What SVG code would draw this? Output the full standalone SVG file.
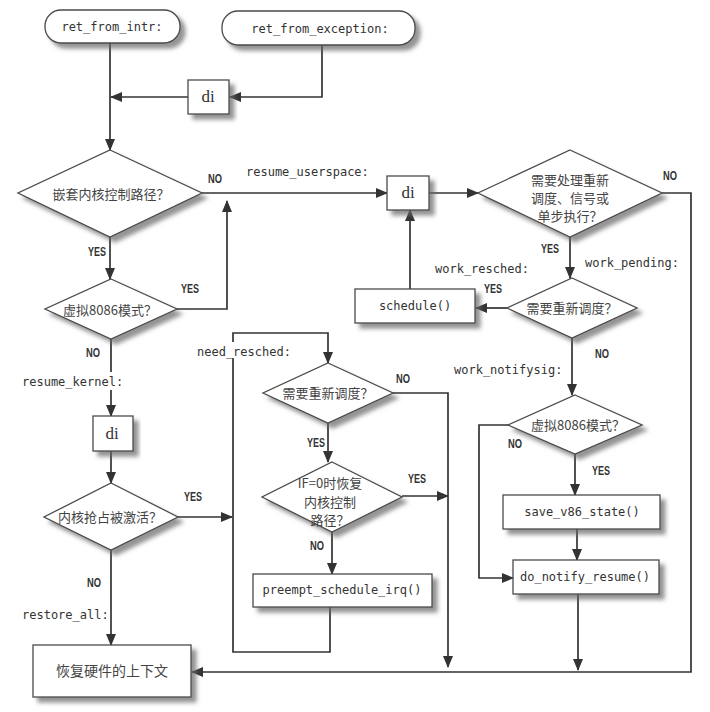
<svg xmlns="http://www.w3.org/2000/svg" width="710" height="712" viewBox="0 0 710 712">
  <style>
    .box { fill: #fff; stroke: #4a4a4a; stroke-width: 1.3; }
    .dia { fill: #fff; stroke: #4a4a4a; stroke-width: 1.3; }
    .code { font-family: "DejaVu Sans Mono", "Liberation Mono", monospace; font-size: 12px; fill: #333; }
    .zh { font-family: "Noto Sans CJK SC", "Noto Sans", sans-serif; font-size: 13px; fill: #444; text-anchor: middle; }
    .zh14 { font-family: "Noto Sans CJK SC", "Noto Sans", sans-serif; font-size: 14px; fill: #444; text-anchor: middle; }
    .di { font-family: "Liberation Serif", serif; font-size: 17px; fill: #333; text-anchor: middle; }
    .yn { font-family: "Liberation Sans", "Noto Sans", sans-serif; font-size: 13px; font-weight: bold; fill: #333; }
    .mid { text-anchor: middle; }
    .wire { fill: none; stroke: #333; stroke-width: 1.7; }
  </style>
  <defs>
    <marker id="arrow" markerUnits="userSpaceOnUse" markerWidth="12" markerHeight="10" refX="11" refY="5" orient="auto">
      <path d="M0,0 L12,5 L0,10 Z" fill="#333"/>
    </marker>
    <filter id="shadow" x="-10%" y="-20%" width="130%" height="160%">
      <feDropShadow dx="5" dy="5" stdDeviation="2" flood-color="#666" flood-opacity="0.7"/>
    </filter>
  </defs>

  <rect width="710" height="712" fill="#fff"/>

  <!-- connectors -->
  <g id="connectors" class="wire" marker-end="url(#arrow)">
    <path d="M110,43 V150"/>
    <path d="M322,45 V97 H230"/>
    <path d="M188,97 H111"/>
    <path d="M202,193 H387"/>
    <path d="M110,237 V279"/>
    <path d="M177,309 H227 V201"/>
    <path d="M111,339 V372 M111,390 V416"/>
    <path d="M111,451 V483"/>
    <path d="M178,517 H232"/>
    <path d="M111,550 V645"/>
    <path d="M330,607 V652 H233 V358 M233,342 V333 H328 V363"/>
    <path d="M393,393 H448 V667"/>
    <path d="M328,423 V462"/>
    <path d="M402,496 H448"/>
    <path d="M332,532 V574"/>
    <path d="M429,193 H478"/>
    <path d="M662,193 H691 V672 H192"/>
    <path d="M570,237 V278"/>
    <path d="M507,308 H476"/>
    <path d="M410,289 V210"/>
    <path d="M572,338 V395"/>
    <path d="M508,425 H479 V578 H513"/>
    <path d="M575,454 V495"/>
    <path d="M577,529 V560"/>
    <path d="M578,594 V670"/>
  </g>

  <!-- entry points -->
  <g id="ret_from_intr">
    <rect class="box" x="45" y="10" width="135" height="33" rx="16" filter="url(#shadow)"/>
    <text class="code mid" x="112" y="31">ret_from_intr:</text>
  </g>
  <g id="ret_from_exception">
    <rect class="box" x="222" y="11" width="193" height="34" rx="16" filter="url(#shadow)"/>
    <text class="code mid" x="320" y="33">ret_from_exception:</text>
  </g>

  <g id="di_1">
    <rect class="box" x="188" y="80" width="41" height="34" filter="url(#shadow)"/>
    <text class="di" x="208" y="102">di</text>
  </g>

  <g id="nested_check">
    <polygon class="dia" points="110,150 202,193 110,237 18,193" filter="url(#shadow)"/>
    <text class="zh" x="111" y="199">嵌套内核控制路径？</text>
  </g>

  <g id="v86_check_1">
    <polygon class="dia" points="111,279 177,309 111,339 45,309" filter="url(#shadow)"/>
    <text class="zh" x="110" y="315">虚拟8086模式？</text>
  </g>

  <g id="di_3">
    <rect class="box" x="93" y="416" width="40" height="35" filter="url(#shadow)"/>
    <text class="di" x="112" y="439">di</text>
  </g>

  <g id="preempt_check">
    <polygon class="dia" points="111,483 178,517 111,550 44,517" filter="url(#shadow)"/>
    <text class="zh" x="110" y="522">内核抢占被激活？</text>
  </g>

  <g id="restore_hw">
    <rect class="box" x="33" y="645" width="158" height="52" filter="url(#shadow)"/>
    <text class="zh14" x="112" y="676">恢复硬件的上下文</text>
  </g>

  <g id="resched_check_kernel">
    <polygon class="dia" points="328,363 393,393 328,423 263,393" filter="url(#shadow)"/>
    <text class="zh" x="328" y="398">需要重新调度？</text>
  </g>

  <g id="if0_check">
    <polygon class="dia" points="332,462 402,497 332,532 262,497" filter="url(#shadow)"/>
    <text class="zh" x="330" y="488">IF=0时恢复</text>
    <text class="zh" x="330" y="507">内核控制</text>
    <text class="zh" x="330" y="525">路径？</text>
  </g>

  <g id="preempt_schedule_irq">
    <rect class="box" x="253" y="574" width="179" height="33" filter="url(#shadow)"/>
    <text class="code mid" x="342" y="594">preempt_schedule_irq()</text>
  </g>

  <g id="di_2">
    <rect class="box" x="387" y="176" width="42" height="34" filter="url(#shadow)"/>
    <text class="di" x="408" y="198">di</text>
  </g>

  <g id="work_check">
    <polygon class="dia" points="570,150 662,193 570,237 478,193" filter="url(#shadow)"/>
    <text class="zh" x="570" y="185">需要处理重新</text>
    <text class="zh" x="570" y="203">调度、信号或</text>
    <text class="zh" x="570" y="221">单步执行？</text>
  </g>

  <g id="schedule">
    <rect class="box" x="355" y="289" width="120" height="34" filter="url(#shadow)"/>
    <text class="code mid" x="415" y="310">schedule()</text>
  </g>

  <g id="resched_check_user">
    <polygon class="dia" points="572,278 637,308 572,338 507,308" filter="url(#shadow)"/>
    <text class="zh" x="572" y="313">需要重新调度？</text>
  </g>

  <g id="v86_check_2">
    <polygon class="dia" points="575,395 642,425 575,454 508,425" filter="url(#shadow)"/>
    <text class="zh" x="578" y="430">虚拟8086模式？</text>
  </g>

  <g id="save_v86_state">
    <rect class="box" x="503" y="495" width="157" height="34" filter="url(#shadow)"/>
    <text class="code mid" x="582" y="516">save_v86_state()</text>
  </g>

  <g id="do_notify_resume">
    <rect class="box" x="513" y="560" width="146" height="34" filter="url(#shadow)"/>
    <text class="code mid" x="585" y="581">do_notify_resume()</text>
  </g>

  <!-- entry labels -->
  <g id="labels">
    <text class="code" x="246" y="176">resume_userspace:</text>
    <text class="code" x="197" y="356">need_resched:</text>
    <text class="code" x="22" y="386">resume_kernel:</text>
    <text class="code" x="22" y="619">restore_all:</text>
    <text class="code" x="435" y="273">work_resched:</text>
    <text class="code" x="585" y="267">work_pending:</text>
    <text class="code" x="454" y="374">work_notifysig:</text>
  </g>

  <!-- branch labels -->
  <g id="branch_labels">
    <text class="yn" x="208" y="183" textLength="14" lengthAdjust="spacingAndGlyphs">NO</text>
    <text class="yn" x="88" y="256" textLength="18" lengthAdjust="spacingAndGlyphs">YES</text>
    <text class="yn" x="181" y="293" textLength="18" lengthAdjust="spacingAndGlyphs">YES</text>
    <text class="yn" x="86" y="357" textLength="14" lengthAdjust="spacingAndGlyphs">NO</text>
    <text class="yn" x="184" y="501" textLength="18" lengthAdjust="spacingAndGlyphs">YES</text>
    <text class="yn" x="87" y="587" textLength="14" lengthAdjust="spacingAndGlyphs">NO</text>
    <text class="yn" x="396" y="383" textLength="14" lengthAdjust="spacingAndGlyphs">NO</text>
    <text class="yn" x="307" y="447" textLength="18" lengthAdjust="spacingAndGlyphs">YES</text>
    <text class="yn" x="408" y="483" textLength="18" lengthAdjust="spacingAndGlyphs">YES</text>
    <text class="yn" x="310" y="550" textLength="14" lengthAdjust="spacingAndGlyphs">NO</text>
    <text class="yn" x="663" y="180" textLength="14" lengthAdjust="spacingAndGlyphs">NO</text>
    <text class="yn" x="541" y="253" textLength="18" lengthAdjust="spacingAndGlyphs">YES</text>
    <text class="yn" x="484" y="293" textLength="18" lengthAdjust="spacingAndGlyphs">YES</text>
    <text class="yn" x="595" y="358" textLength="14" lengthAdjust="spacingAndGlyphs">NO</text>
    <text class="yn" x="508" y="448" textLength="14" lengthAdjust="spacingAndGlyphs">NO</text>
    <text class="yn" x="592" y="475" textLength="18" lengthAdjust="spacingAndGlyphs">YES</text>
  </g>
</svg>
